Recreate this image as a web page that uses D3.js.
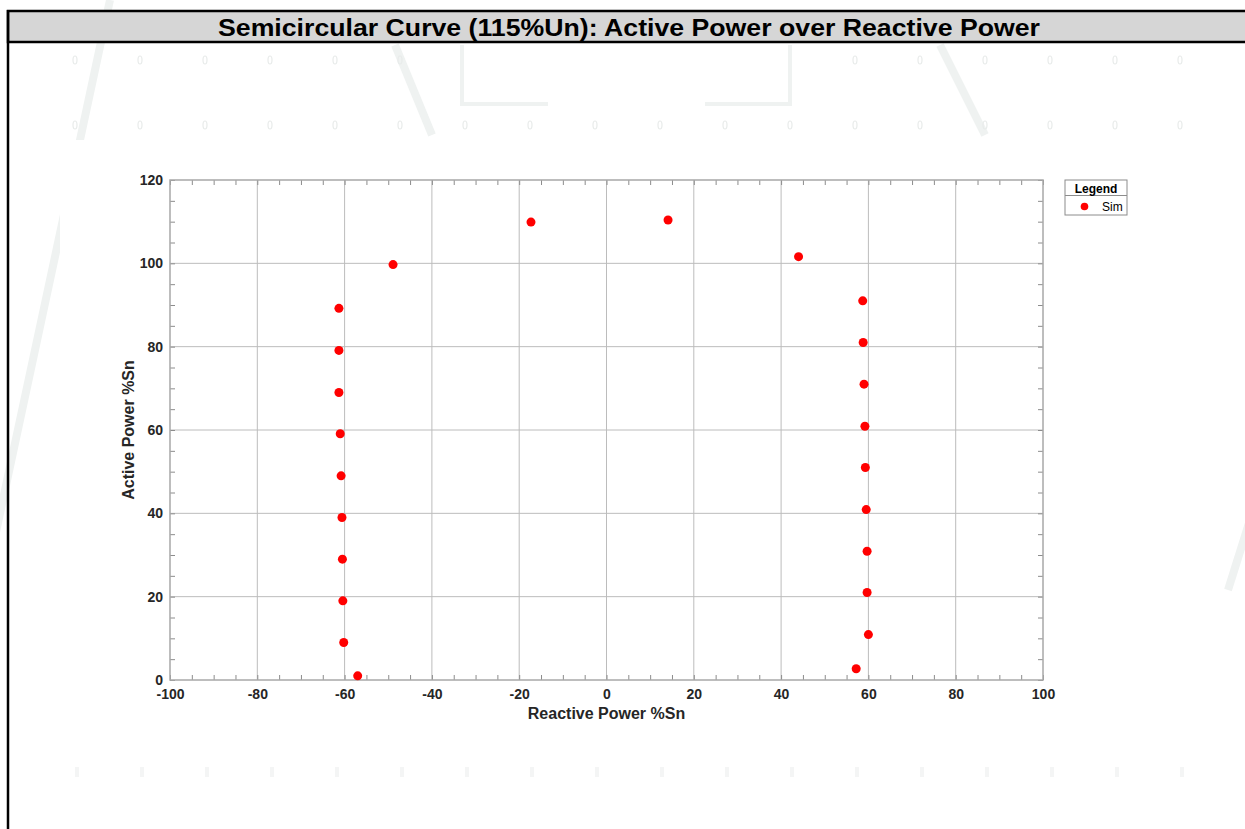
<!DOCTYPE html>
<html>
<head>
<meta charset="utf-8">
<script src="https://cdn.jsdelivr.net/npm/d3@7"></script>
<style>
  html, body { margin: 0; padding: 0; background: #fff; }
  svg { display: block; font-family: "Liberation Sans", Arial, sans-serif; }
</style>
</head>
<body>
<div id="chart"></div>
<script>
"use strict";
(function() {

const WIDTH = 1245
const HEIGHT = 829

const margin = { top: 180, left: 170, right: 202, bottom: 149 }

const TITLE = "Semicircular Curve (115%Un): Active Power over Reactive Power"
const X_LABEL = "Reactive Power %Sn"
const Y_LABEL = "Active Power %Sn"
const SERIES_NAME = "Sim"

// simulated points
const reactive = [-57.0, -60.2, -60.4, -60.5, -60.6, -60.8, -61.0, -61.3, -61.3, -61.3,
                  -48.9, -17.3, 14.1, 44.0,
                  58.7, 58.8, 59.0, 59.2, 59.3, 59.5, 59.7, 59.7, 60.0, 57.2]
const active = [1.0, 9.0, 19.0, 29.0, 39.0, 49.0, 59.1, 69.0, 79.1, 89.2,
                99.7, 109.9, 110.4, 101.6,
                91.0, 81.0, 71.0, 60.9, 51.0, 40.9, 30.9, 21.0, 10.9, 2.7]

const xTicks = [-100, -80, -60, -40, -20, 0, 20, 40, 60, 80, 100]
const yTicks = [0, 20, 40, 60, 80, 100, 120]
const minorStep = 5

const RED = "#ff0000"
const GRID = "#bcbcbc"
const AXIS = "#a8a8a8"
const TEXT = "#262626"
const WATERMARK = "#eff2f1"

let points = d3.zip(reactive, active)

let svg = d3.select("#chart").append("svg")
    .attr("width", WIDTH)
    .attr("height", HEIGHT)

// faint page watermark (mostly hidden behind the figure image)
let wm = svg.append("g").attr("class", "watermark")
wm.selectAll("line.stroke")
  .data([[110, 0, -10, 560], [395, 45, 432, 135], [940, 45, 985, 135], [1250, 520, 1228, 590]])
  .join("line")
    .attr("x1", d => d[0]).attr("y1", d => d[1])
    .attr("x2", d => d[2]).attr("y2", d => d[3])
    .style("stroke", WATERMARK).style("stroke-width", 8)
wm.append("path")
    .attr("d", "M462,45 L462,104 L548,104 M790,45 L790,104 L705,104")
    .style("fill", "none").style("stroke", WATERMARK).style("stroke-width", 4)
let dotRows = [60, 125]
dotRows.forEach(function(y, i) {
    let xs = d3.range(75, 1200, 65).filter(x => i === 1 || x < 420 || x > 840)
    wm.selectAll(null).data(xs).join("ellipse")
        .attr("cx", x => x).attr("cy", y).attr("rx", 2).attr("ry", 4)
        .style("fill", "none").style("stroke", "#e8ebea").style("stroke-width", 1.2)
})
wm.selectAll("rect.bar").data(d3.range(75, 1200, 65)).join("rect")
    .attr("x", x => x).attr("y", 767).attr("width", 4).attr("height", 10)
    .style("fill", "#f4f5f5")

// white figure image on top of the watermark
svg.append("rect")
    .attr("x", 60).attr("y", 140).attr("width", 1160).attr("height", 605)
    .style("fill", "#fff")

// page frame and title bar
svg.append("rect")
    .attr("x", 8).attr("y", 11).attr("width", WIDTH).attr("height", 31)
    .style("fill", "#d6d6d6").style("stroke", "#000").style("stroke-width", 2.5)
svg.append("line")
    .attr("x1", 8).attr("x2", 8).attr("y1", 10).attr("y2", HEIGHT)
    .style("stroke", "#000").style("stroke-width", 2.5)
svg.append("text")
    .attr("x", 629).attr("y", 36)
    .attr("text-anchor", "middle")
    .attr("textLength", 822).attr("lengthAdjust", "spacingAndGlyphs")
    .style("font-size", "24px").style("font-weight", "bold").style("fill", "#000")
    .text(TITLE)

let x_scale = d3.scaleLinear().domain([-100, 100]).range([margin.left, WIDTH - margin.right])
let y_scale = d3.scaleLinear().domain([0, 120]).range([HEIGHT - margin.bottom, margin.top])

let x0 = x_scale.range()[0], x1 = x_scale.range()[1]
let y0 = y_scale.range()[0], y1 = y_scale.range()[1]

// grid
svg.append("g")
    .selectAll("line").data(xTicks.slice(1, -1)).join("line")
    .attr("x1", d => x_scale(d)).attr("x2", d => x_scale(d))
    .attr("y1", y1).attr("y2", y0)
    .style("stroke", GRID).style("stroke-width", 1)
svg.append("g")
    .selectAll("line").data(yTicks.slice(1, -1)).join("line")
    .attr("x1", x0).attr("x2", x1)
    .attr("y1", d => y_scale(d)).attr("y2", d => y_scale(d))
    .style("stroke", GRID).style("stroke-width", 1)

// minor ticks pointing inward on all four sides
let xMinor = d3.range(-100, 100.1, minorStep)
let yMinor = d3.range(0, 120.1, minorStep)
function minorAxis(axis, scale, values, translate) {
    let g = svg.append("g")
        .attr("transform", translate)
        .call(axis(scale).tickValues(values).tickSize(-5).tickFormat(""))
    g.select(".domain").remove()
    g.selectAll(".tick line").style("stroke", "#8c8c8c")
}
minorAxis(d3.axisBottom, x_scale, xMinor, `translate(0, ${y0})`)
minorAxis(d3.axisTop, x_scale, xMinor, `translate(0, ${y1})`)
minorAxis(d3.axisLeft, y_scale, yMinor, `translate(${x0}, 0)`)
minorAxis(d3.axisRight, y_scale, yMinor, `translate(${x1}, 0)`)

// box
svg.append("rect")
    .attr("x", x0).attr("y", y1)
    .attr("width", x1 - x0).attr("height", y0 - y1)
    .style("fill", "none").style("stroke", AXIS).style("stroke-width", 1.5)

// tick labels (plain hyphen minus, like the original)
let plain = d => String(d)
let xAxis = svg.append("g")
    .attr("transform", `translate(0, ${y0})`)
    .call(d3.axisBottom(x_scale).tickValues(xTicks).tickFormat(plain).tickSize(0).tickPadding(9))
let yAxis = svg.append("g")
    .attr("transform", `translate(${x0}, 0)`)
    .call(d3.axisLeft(y_scale).tickValues(yTicks).tickFormat(plain).tickSize(0).tickPadding(7))
;[xAxis, yAxis].forEach(function(g) {
    g.select(".domain").remove()
    g.selectAll("text")
        .style("font-family", "'Liberation Sans', Arial, sans-serif")
        .style("font-size", "14px").style("font-weight", "bold").style("fill", TEXT)
})

// axis labels
svg.append("text")
    .attr("x", (x0 + x1) / 2).attr("y", 719)
    .attr("text-anchor", "middle")
    .style("font-size", "16px").style("font-weight", "bold").style("fill", TEXT)
    .text(X_LABEL)
svg.append("text")
    .attr("transform", `translate(134, ${(y0 + y1) / 2}) rotate(-90)`)
    .attr("text-anchor", "middle")
    .style("font-size", "16px").style("font-weight", "bold").style("fill", TEXT)
    .text(Y_LABEL)

// points
svg.append("g")
    .selectAll("circle").data(points).join("circle")
    .attr("cx", d => x_scale(d[0]))
    .attr("cy", d => y_scale(d[1]))
    .attr("r", 4.5)
    .style("fill", RED)

// legend
let lg = svg.append("g").attr("transform", "translate(1065, 180)")
lg.append("rect")
    .attr("width", 62).attr("height", 35)
    .style("fill", "#fff").style("stroke", "#8c8c8c").style("stroke-width", 1)
lg.append("line")
    .attr("x1", 0).attr("x2", 62).attr("y1", 15.5).attr("y2", 15.5)
    .style("stroke", "#8c8c8c")
lg.append("text")
    .attr("x", 31).attr("y", 12.5).attr("text-anchor", "middle")
    .style("font-size", "12px").style("font-weight", "bold").style("fill", "#000")
    .text("Legend")
lg.append("circle")
    .attr("cx", 19.5).attr("cy", 26.5).attr("r", 3.8)
    .style("fill", RED)
lg.append("text")
    .attr("x", 37).attr("y", 31)
    .style("font-size", "12px").style("fill", "#000")
    .text(SERIES_NAME)

})();
</script>
</body>
</html>
